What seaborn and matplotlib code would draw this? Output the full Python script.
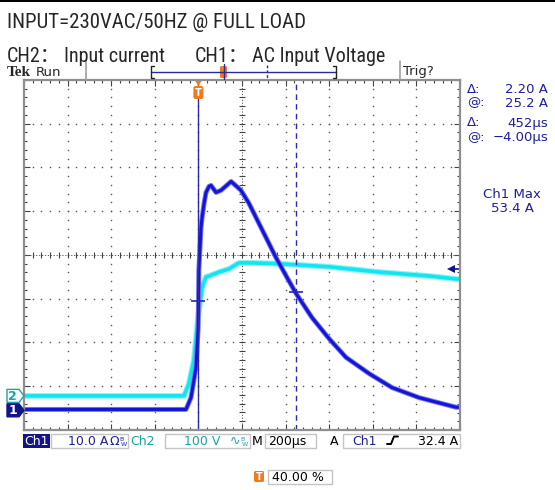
import os
import numpy as np
import pandas as pd
import matplotlib
matplotlib.use("Agg")
import matplotlib.pyplot as plt
import seaborn as sns
from matplotlib import font_manager
from matplotlib.patches import Rectangle, Polygon, FancyBboxPatch
from matplotlib.lines import Line2D
from matplotlib.ticker import MultipleLocator

# ---------------- data ----------------
ch1_time_us = [-800, -57, -34, -11, -1, 2, 12, 17, 26, 35, 49, 58, 81, 104, 150,
               195, 232, 264, 310, 356, 406, 448, 521, 599, 677, 783, 888,
               1012, 1182, 1198]
ch1_current_a = [0.2, 0.2, 2.9, 9.8, 18.9, 32.0, 41.8, 44.1, 47.3, 49.8, 51.2, 51.4,
                 49.8, 50.3, 52.3, 50.3, 47.3, 44.1, 39.5, 34.9, 30.4, 26.7,
                 21.2, 16.4, 12.1, 8.4, 5.2, 2.9, 0.7, 0.7]

ch2_time_us = [-800, -66, -44, -21, -2, 17, 35, 49, 95, 140, 186, 246, 370, 599,
               828, 1058, 1186, 1198]
ch2_voltage_v = [0, 0, 27, 80, 178, 247, 272, 274, 283, 290, 304, 304, 302, 295,
                 283, 274, 267, 267]

TIME_PER_DIV = 200.0      # µs/div
TRIG_POS_DIV = 4.0        # 40.00 %
CH1_SCALE = 10.0          # A/div
CH2_SCALE = 100.0         # V/div
CH1_POS = -3.55           # div
CH2_POS = -3.22           # div
TRIG_LEVEL_A = 32.4
cursor_time_us = [-4.0, 448.0]
cursor_current_a = [24.9, 27.1]

title_line1 = "INPUT=230VAC/50HZ @ FULL LOAD"
title_parts2 = [("CH2：", 7), ("Input current", 64), ("CH1：", 195), ("AC Input Voltage", 252)]
readout_rows = [("Δ:", "2.20 A", 93), ("@:", "25.2 A", 106.5), ("Δ:", "452µs", 126.5), ("@:", "−4.00µs", 141)]
meas_label = ["Ch1 Max", "53.4 A"]

# ---------------- style ----------------
sns.set_style("white")
plt.rcParams["font.family"] = ["DejaVu Sans", "Noto Sans CJK SC"]

# find a condensed / narrow sans font for the annotation lines
cands = []
for f in font_manager.fontManager.ttflist:
    low = (f.name + " " + os.path.basename(f.fname)).lower()
    narrowish = ("narrow" in low or "condensed" in low or
                 f.stretch in ("condensed", "semi-condensed", "extra-condensed"))
    if not narrowish or "mono" in low or "serif" in low:
        continue
    if f.style != "normal" or f.weight not in (400, "normal", "regular", "book"):
        continue
    pref = 9
    for i, key in enumerate(["liberation sans narrow", "arial narrow", "roboto condensed",
                             "open sans condensed", "noto sans condensed", "dejavu sans"]):
        if key in low:
            pref = i
            break
    cands.append((pref, f))
cands.sort(key=lambda c: c[0])
if cands:
    NARROW_FAMILY, NARROW_STRETCH = cands[0][1].name, cands[0][1].stretch
    T1_SIZE, T2_SIZE = 15, 14.5
else:
    NARROW_FAMILY, NARROW_STRETCH = "Liberation Sans", "normal"
    T1_SIZE, T2_SIZE = 13, 13

W, H = 555, 490
fig = plt.figure(figsize=(W / 100, H / 100), dpi=100)
fig.patch.set_facecolor("white")

BLUE_TXT = "#1e1e9c"
BLUE_BOX = "#13138a"
TEAL = "#1aa3a8"
ORANGE = "#f07a1e"


def ftext(x, y, s, **kw):
    return fig.text(x / W, 1 - y / H, s, **kw)


def frect(x0, y0, x1, y1, **kw):
    fig.add_artist(Rectangle((x0 / W, 1 - y1 / H), (x1 - x0) / W, (y1 - y0) / H,
                             transform=fig.transFigure, **kw))


def fline(xs, ys, **kw):
    fig.add_artist(Line2D([x / W for x in xs], [1 - y / H for y in ys],
                          transform=fig.transFigure, **kw))


def fpoly(pts, **kw):
    fig.add_artist(Polygon([(x / W, 1 - y / H) for x, y in pts], closed=True,
                           transform=fig.transFigure, **kw))


# top black border
frect(0, 0, 555, 2.5, facecolor="black", edgecolor="none")

# titles
ftext(7, 28.5, title_line1, fontsize=T1_SIZE, family=[NARROW_FAMILY, "DejaVu Sans"],
      fontstretch=NARROW_STRETCH, va="baseline")
for s, x in title_parts2:
    ftext(x, 62, s, fontsize=T2_SIZE, family=[NARROW_FAMILY, "Noto Sans CJK SC", "DejaVu Sans"],
          fontstretch=NARROW_STRETCH, va="baseline")

# ---------------- main scope axes ----------------
L, R, T, B = 24, 460, 80, 430
ax = fig.add_axes([L / W, 1 - B / H, (R - L) / W, (B - T) / H])
ax.set_xlim(0, 10)
ax.set_ylim(-4, 4)

# grid dots
dot_c = "#555555"
ys = np.arange(-4, 4.001, 0.2)
xs = np.arange(0, 10.001, 0.2)
for gx in range(1, 10):
    if gx == 5:
        continue
    ax.plot(np.full_like(ys, gx), ys, ls="none", marker="s", ms=1.0, color=dot_c, mew=0)
for gy in range(-3, 4):
    if gy == 0:
        continue
    ax.plot(xs, np.full_like(xs, gy), ls="none", marker="s", ms=1.0, color=dot_c, mew=0)
# centre cross lines with ticks
ax.axhline(0, color=dot_c, lw=0.7, ls=(0, (1.2, 1.8)))
ax.axvline(5, color=dot_c, lw=0.7, ls=(0, (1.2, 1.8)))
ax.plot(xs, np.zeros_like(xs), ls="none", marker="|", ms=4, mew=0.8, color="#444444")
ax.plot(np.full_like(ys, 5), ys, ls="none", marker="_", ms=4, mew=0.8, color="#444444")

for sp in ax.spines.values():
    sp.set_color("#8f8f8f")
    sp.set_linewidth(1.6)
ax.xaxis.set_major_locator(MultipleLocator(1))
ax.yaxis.set_major_locator(MultipleLocator(1))
ax.xaxis.set_minor_locator(MultipleLocator(0.2))
ax.yaxis.set_minor_locator(MultipleLocator(0.2))
ax.tick_params(which="both", direction="in", top=True, right=True, bottom=True, left=True,
               labelleft=False, labelbottom=False, color="#444444", width=0.8)
ax.tick_params(which="major", length=4)
ax.tick_params(which="minor", length=2.5)

# traces
df2 = pd.DataFrame({"x": np.array(ch2_time_us) / TIME_PER_DIV + TRIG_POS_DIV,
                    "y": np.array(ch2_voltage_v) / CH2_SCALE + CH2_POS})
df1 = pd.DataFrame({"x": np.array(ch1_time_us) / TIME_PER_DIV + TRIG_POS_DIV,
                    "y": np.array(ch1_current_a) / CH1_SCALE + CH1_POS})
sns.lineplot(data=df2, x="x", y="y", ax=ax, color="#8af4f6", lw=4.2, estimator=None, sort=False)
sns.lineplot(data=df2, x="x", y="y", ax=ax, color="#14e4ee", lw=2.6, estimator=None, sort=False)
sns.lineplot(data=df1, x="x", y="y", ax=ax, color="#7878ee", lw=3.6, estimator=None, sort=False)
sns.lineplot(data=df1, x="x", y="y", ax=ax, color="#1414d6", lw=2.2, estimator=None, sort=False)
ax.set_xlabel("")
ax.set_ylabel("")

# cursors
cx = [t / TIME_PER_DIV + TRIG_POS_DIV for t in cursor_time_us]
ax.axvline(cx[0], color="#2a2ab0", lw=1.0)
ax.axvline(cx[1], color="#2a2ab0", lw=1.0, ls=(0, (4, 3)))
for xc, ic in zip(cx, cursor_current_a):
    ax.plot([xc], [ic / CH1_SCALE + CH1_POS], marker="_", ms=9.5, mew=1.2, color="#2a2ab0")

# trigger level arrow (right edge)
ty = TRIG_LEVEL_A / CH1_SCALE + CH1_POS
ax.plot([9.88, 10.0], [ty, ty], color=BLUE_BOX, lw=1.2, clip_on=False)
ax.plot([9.8], [ty], marker="<", ms=6, color=BLUE_BOX, mew=0, clip_on=False)

# ground markers
g2 = T + (4 - CH2_POS) / 8 * (B - T)
g1 = T + (4 - CH1_POS) / 8 * (B - T)
fpoly([(7, g2 - 6.5), (19, g2 - 6.5), (24, g2), (19, g2 + 6.5), (7, g2 + 6.5)],
      facecolor="white", edgecolor=TEAL, lw=1.0)
ftext(12.5, g2 + 0.5, "2", color=TEAL, fontsize=9, ha="center", va="center", fontweight="bold")
fpoly([(7, g1 - 6.5), (19, g1 - 6.5), (24, g1), (19, g1 + 6.5), (7, g1 + 6.5)],
      facecolor=BLUE_BOX, edgecolor=BLUE_BOX, lw=1.0)
ftext(12.5, g1 + 0.5, "1", color="white", fontsize=9, ha="center", va="center", fontweight="bold")

# trigger position marker at top
tx = L + TRIG_POS_DIV / 10 * (R - L)
fpoly([(tx - 3, 81), (tx + 3, 81), (tx, 86)], facecolor=ORANGE, edgecolor="none")
fig.add_artist(FancyBboxPatch(((tx - 5) / W, 1 - 99 / H), 10 / W, 13 / H,
                              boxstyle="round,pad=0,rounding_size=0.004",
                              transform=fig.transFigure, facecolor=ORANGE, edgecolor="none"))
ftext(tx, 92.5, "T", color="white", fontsize=7, ha="center", va="center", fontweight="bold")

# ---------------- top status bar ----------------
ftext(7, 76, "Tek", fontsize=11, family="Liberation Serif", fontweight="bold", va="baseline")
ftext(36, 75.5, "Run", fontsize=9.5, va="baseline")
fline([86, 86], [61, 80], color="#a0a0a0", lw=1.2)
fline([400, 400], [61, 80], color="#a0a0a0", lw=1.2)
ftext(403, 75.5, "Trig?", fontsize=9.5, va="baseline")
fline([151, 336], [72, 72], color="#2a2aa0", lw=1.0)
fline([154, 151, 151, 154], [66, 66, 78, 78], color="#222222", lw=1.0)
fline([333, 336, 336, 333], [66, 66, 78, 78], color="#222222", lw=1.0)
fig.add_artist(FancyBboxPatch((220 / W, 1 - 78 / H), 7 / W, 12 / H,
                              boxstyle="round,pad=0,rounding_size=0.003",
                              transform=fig.transFigure, facecolor=ORANGE, edgecolor="none"))
fline([224, 224], [64, 79], color="#2a2aa0", lw=1.0)
fline([267, 267], [65, 79], color="#2a2aa0", lw=1.0, ls=(0, (2, 1.5)))

# ---------------- right readouts ----------------
for lab, val, yb in readout_rows:
    ftext(467, yb, lab, color=BLUE_TXT, fontsize=9.5, va="baseline")
    ftext(548, yb, val, color=BLUE_TXT, fontsize=9.5, va="baseline", ha="right")
ftext(512, 198, meas_label[0], color=BLUE_TXT, fontsize=9.5, va="baseline", ha="center")
ftext(512, 212, meas_label[1], color=BLUE_TXT, fontsize=9.5, va="baseline", ha="center")

# ---------------- bottom status bar ----------------
BY0, BY1, BB = 434, 447.5, 445
frect(23, BY0, 50, BY1, facecolor=BLUE_BOX, edgecolor="none")
ftext(36.5, BB, "Ch1", color="white", fontsize=9, ha="center", va="baseline")
frect(51, BY0, 128, BY1, facecolor="white", edgecolor="#c4c4c4", lw=1.0)
ftext(68, BB, "10.0 A", color=BLUE_TXT, fontsize=9, va="baseline")
ftext(109, BB, "Ω", color=BLUE_TXT, fontsize=9, va="baseline")
ftext(119.5, BB - 4.5, "B", color=BLUE_TXT, fontsize=4.5, va="baseline")
ftext(121, BB + 0.5, "W", color=BLUE_TXT, fontsize=4.5, va="baseline")
ftext(130, BB, "Ch2", color=TEAL, fontsize=9, va="baseline")
frect(165, BY0, 250, BY1, facecolor="white", edgecolor="#c4c4c4", lw=1.0)
ftext(220, BB, "100 V", color=TEAL, fontsize=9, va="baseline", ha="right")
ftext(230, BB, "∿", color=TEAL, fontsize=9, va="baseline")
ftext(240.5, BB - 4.5, "B", color=TEAL, fontsize=4.5, va="baseline")
ftext(242, BB + 0.5, "W", color=TEAL, fontsize=4.5, va="baseline")
ftext(252, BB, "M", color="black", fontsize=9, va="baseline")
frect(265, BY0, 316, BY1, facecolor="white", edgecolor="#c4c4c4", lw=1.0)
ftext(268, BB, "200µs", color="black", fontsize=9, va="baseline")
ftext(330, BB, "A", color="black", fontsize=9, va="baseline")
frect(343, BY0, 460, BY1, facecolor="white", edgecolor="#c4c4c4", lw=1.0)
ftext(352, BB, "Ch1", color=BLUE_TXT, fontsize=9, va="baseline")
fline([387, 391, 394, 398], [444, 444, 436.5, 436.5], color="black", lw=1.4)
ftext(458, BB, "32.4 A", color="black", fontsize=9, va="baseline", ha="right")

# bottom trigger position readout
fig.add_artist(FancyBboxPatch((254 / W, 1 - 482 / H), 10 / W, 11 / H,
                              boxstyle="round,pad=0,rounding_size=0.003",
                              transform=fig.transFigure, facecolor=ORANGE, edgecolor="none"))
ftext(259, 477, "T", color="white", fontsize=7, ha="center", va="center", fontweight="bold")
frect(268, 470, 332, 484, facecolor="white", edgecolor="#c4c4c4", lw=1.0)
ftext(272, 481, "40.00 %", color="black", fontsize=9, va="baseline")

fig.savefig("out.png", dpi=100, facecolor="white")
